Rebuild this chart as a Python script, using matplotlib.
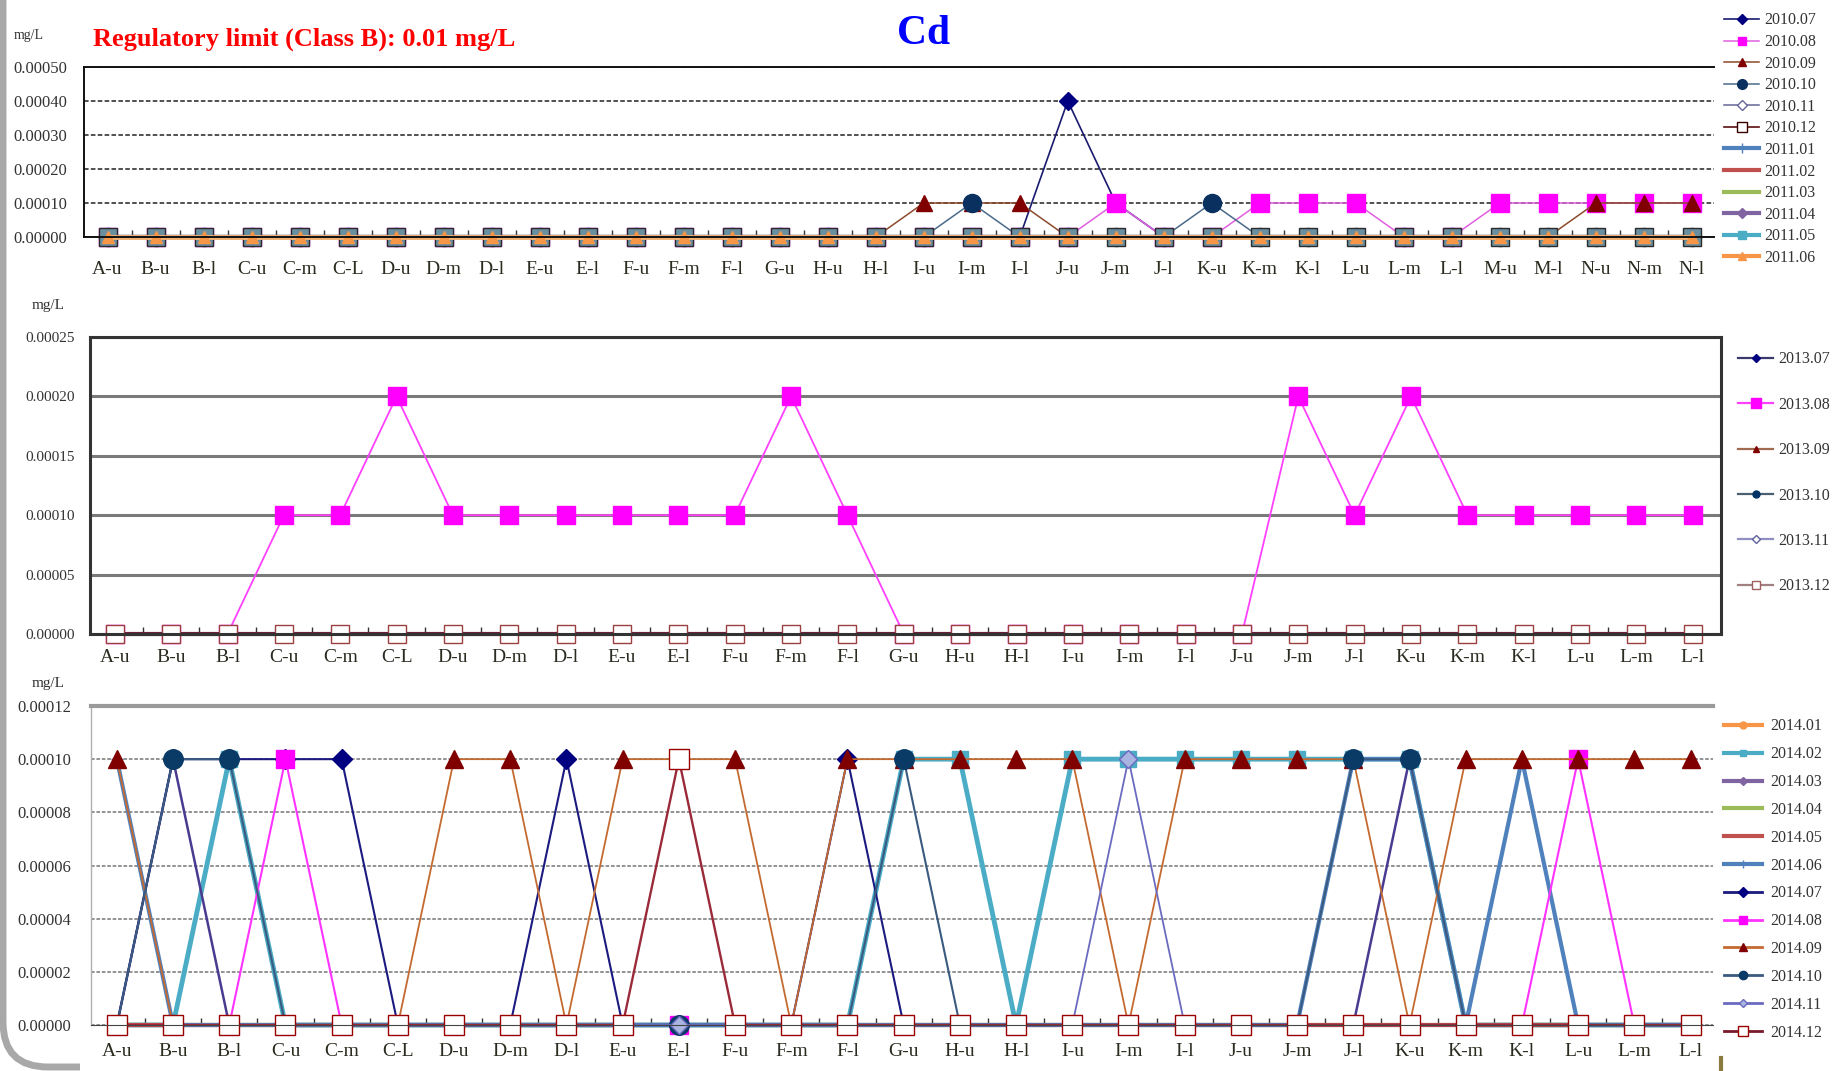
import numpy as np
import matplotlib
matplotlib.use('Agg')
import matplotlib.pyplot as plt
from matplotlib.lines import Line2D
from matplotlib.patches import PathPatch
from matplotlib.path import Path
from matplotlib.ticker import FormatStrFormatter, FixedLocator

plt.rcParams['font.family'] = ['Liberation Serif', 'DejaVu Serif']

# ---------------- data ----------------
sites_2010 = ['A-u', 'B-u', 'B-l', 'C-u', 'C-m', 'C-L', 'D-u', 'D-m', 'D-l', 'E-u', 'E-l',
              'F-u', 'F-m', 'F-l', 'G-u', 'H-u', 'H-l', 'I-u', 'I-m', 'I-l', 'J-u', 'J-m',
              'J-l', 'K-u', 'K-m', 'K-l', 'L-u', 'L-m', 'L-l', 'M-u', 'M-l', 'N-u', 'N-m', 'N-l']
sites_2013 = ['A-u', 'B-u', 'B-l', 'C-u', 'C-m', 'C-L', 'D-u', 'D-m', 'D-l', 'E-u', 'E-l',
              'F-u', 'F-m', 'F-l', 'G-u', 'H-u', 'H-l', 'I-u', 'I-m', 'I-l', 'J-u', 'J-m',
              'J-l', 'K-u', 'K-m', 'K-l', 'L-u', 'L-m', 'L-l']
sites_2014 = list(sites_2013)

Z34 = [0.0] * 34
Z29 = [0.0] * 29

# 2010.07 - 2011.06 (34 sites)
cd_2010_07 = [0, 0, 0, 0, 0, 0, 0, 0, 0, 0, 0, 0, 0, 0, 0, 0, 0, 0, 0, 0, 0.0004, 0.0001,
              0, 0, 0, 0, 0, 0, 0, 0, 0, 0, 0, 0]
cd_2010_08 = [0, 0, 0, 0, 0, 0, 0, 0, 0, 0, 0, 0, 0, 0, 0, 0, 0, 0, 0, 0, 0, 0.0001,
              0, 0, 0.0001, 0.0001, 0.0001, 0, 0, 0.0001, 0.0001, 0.0001, 0.0001, 0.0001]
cd_2010_09 = [0, 0, 0, 0, 0, 0, 0, 0, 0, 0, 0, 0, 0, 0, 0, 0, 0, 0.0001, 0.0001, 0.0001, 0, 0,
              0, 0, 0, 0, 0, 0, 0, 0, 0, 0.0001, 0.0001, 0.0001]
cd_2010_10 = [0, 0, 0, 0, 0, 0, 0, 0, 0, 0, 0, 0, 0, 0, 0, 0, 0, 0, 0.0001, 0, 0, 0,
              0, 0.0001, 0, 0, 0, 0, 0, 0, 0, 0, 0, 0]
cd_2010_11 = list(Z34)
cd_2010_12 = list(Z34)
cd_2011_01 = list(Z34)
cd_2011_02 = list(Z34)
cd_2011_03 = list(Z34)
cd_2011_04 = list(Z34)
cd_2011_05 = list(Z34)
cd_2011_06 = list(Z34)

# 2013.07 - 2013.12 (29 sites)
cd_2013_07 = list(Z29)
cd_2013_08 = [0, 0, 0, 0.0001, 0.0001, 0.0002, 0.0001, 0.0001, 0.0001, 0.0001, 0.0001,
              0.0001, 0.0002, 0.0001, 0, 0, 0, 0, 0, 0, 0, 0.0002, 0.0001, 0.0002,
              0.0001, 0.0001, 0.0001, 0.0001, 0.0001]
cd_2013_09 = list(Z29)
cd_2013_10 = list(Z29)
cd_2013_11 = list(Z29)
cd_2013_12 = list(Z29)

# 2014.01 - 2014.12 (29 sites)
cd_2014_01 = list(Z29)
cd_2014_02 = [0, 0, 0.0001, 0, 0, 0, 0, 0, 0, 0, 0, 0, 0, 0, 0.0001, 0.0001, 0, 0.0001,
              0.0001, 0.0001, 0.0001, 0.0001, 0.0001, 0.0001, 0, 0, 0, 0, 0]
cd_2014_03 = [0, 0.0001, 0, 0, 0, 0, 0, 0, 0, 0, 0, 0, 0, 0, 0, 0, 0, 0, 0, 0, 0, 0, 0,
              0.0001, 0, 0, 0, 0, 0]
cd_2014_04 = list(Z29)
cd_2014_05 = list(Z29)
cd_2014_06 = [0.0001, 0, 0, 0, 0, 0, 0, 0, 0, 0, 0, 0, 0, 0, 0, 0, 0, 0, 0, 0, 0, 0,
              0.0001, 0.0001, 0, 0.0001, 0, 0, 0]
cd_2014_07 = [0, 0.0001, 0.0001, 0.0001, 0.0001, 0, 0, 0, 0.0001, 0, 0, 0, 0, 0.0001, 0, 0,
              0, 0, 0, 0, 0, 0, 0, 0, 0, 0, 0, 0, 0]
cd_2014_08 = [0, 0, 0, 0.0001, 0, 0, 0, 0, 0, 0, 0, 0, 0, 0, 0, 0, 0, 0, 0, 0, 0, 0, 0, 0,
              0, 0, 0.0001, 0, 0]
cd_2014_09 = [0.0001, 0, 0, 0, 0, 0, 0.0001, 0.0001, 0, 0.0001, 0.0001, 0.0001, 0, 0.0001,
              0.0001, 0.0001, 0.0001, 0.0001, 0, 0.0001, 0.0001, 0.0001, 0.0001, 0, 0.0001,
              0.0001, 0.0001, 0.0001, 0.0001]
cd_2014_10 = [0, 0.0001, 0.0001, 0, 0, 0, 0, 0, 0, 0, 0, 0, 0, 0, 0.0001, 0, 0, 0, 0, 0, 0,
              0, 0.0001, 0.0001, 0, 0, 0, 0, 0]
cd_2014_11 = [0, 0, 0, 0, 0, 0, 0, 0, 0, 0, 0, 0, 0, 0, 0, 0, 0, 0, 0.0001, 0, 0, 0, 0,
              0, 0, 0, 0, 0, 0]
cd_2014_12 = [0, 0, 0, 0, 0, 0, 0, 0, 0, 0, 0.0001, 0, 0, 0, 0, 0, 0, 0, 0, 0, 0, 0, 0, 0,
              0, 0, 0, 0, 0]

labels_a = ['2010.07', '2010.08', '2010.09', '2010.10', '2010.11', '2010.12',
            '2011.01', '2011.02', '2011.03', '2011.04', '2011.05', '2011.06']
series_a = [cd_2010_07, cd_2010_08, cd_2010_09, cd_2010_10, cd_2010_11, cd_2010_12,
            cd_2011_01, cd_2011_02, cd_2011_03, cd_2011_04, cd_2011_05, cd_2011_06]
labels_b = ['2013.07', '2013.08', '2013.09', '2013.10', '2013.11', '2013.12']
series_b = [cd_2013_07, cd_2013_08, cd_2013_09, cd_2013_10, cd_2013_11, cd_2013_12]
labels_c = ['2014.01', '2014.02', '2014.03', '2014.04', '2014.05', '2014.06',
            '2014.07', '2014.08', '2014.09', '2014.10', '2014.11', '2014.12']
series_c = [cd_2014_01, cd_2014_02, cd_2014_03, cd_2014_04, cd_2014_05, cd_2014_06,
            cd_2014_07, cd_2014_08, cd_2014_09, cd_2014_10, cd_2014_11, cd_2014_12]

# ---------------- styles ----------------
def st(color, lw, marker='None', ms=0, mfc=None, mec=None):
    return dict(color=color, lw=lw, marker=marker, ms=ms,
                mfc=mfc if mfc is not None else color,
                mec=mec if mec is not None else (mfc if mfc is not None else color))

styles_a = [
    st('#1a1a6e', 1.2, 'D', 9, '#000080'),
    st('#e060e0', 1.1, 's', 13, '#ff00ff'),
    st('#8b4a2b', 1.1, '^', 12, '#800000'),
    st('#4a6a8a', 1.1, 'o', 13, '#0a3060'),
    st('#666699', 1.1, 'D', 7, 'white', '#666699'),
    st('#5a0f0f', 1.2, 's', 9, 'white', '#3a0000'),
    st('#4f81bd', 3.0, '+', 7),
    st('#c0504d', 3.0),
    st('#9bbb59', 3.0),
    st('#8064a2', 3.0, 'D', 5),
    st('#4bacc6', 3.0, 's', 13, '#6a8fa0', '#2b2b2b'),
    st('#f6b070', 3.5, '^', 9, '#f79646', '#f79646'),
]
leg_a = [
    st('#1a1a6e', 1.2, 'D', 5, '#000080'),
    st('#e060e0', 1.1, 's', 6, '#ff00ff'),
    st('#8b4a2b', 1.1, '^', 6, '#800000'),
    st('#4a6a8a', 1.1, 'o', 7, '#0a3060'),
    st('#666699', 1.1, 'D', 5, 'white', '#666699'),
    st('#5a0f0f', 1.2, 's', 7, 'white', '#3a0000'),
    st('#4f81bd', 3.0, '+', 7),
    st('#c0504d', 3.0),
    st('#9bbb59', 3.0),
    st('#8064a2', 3.0, 'D', 5),
    st('#4bacc6', 3.0, 's', 6),
    st('#f79646', 3.0, '^', 6),
]
styles_b = [
    st('#1a1a6e', 1.2, 'D', 8, '#000080'),
    st('#ff40ff', 1.3, 's', 13, '#ff00ff'),
    st('#993300', 1.2, '^', 9, '#800000'),
    st('#335577', 1.2, 'o', 9, '#003366'),
    st('#9090c0', 1.2, 'D', 7, 'white', '#6060a0'),
    st('#6b1f3a', 3.0, 's', 13.5, 'white', '#9a4040'),
]
leg_b = [
    st('#3a3a6e', 1.6, 'D', 4, '#000080'),
    st('#ff40ff', 1.6, 's', 7, '#ff00ff'),
    st('#a06a50', 1.6, '^', 5, '#800000'),
    st('#4a6070', 1.6, 'o', 5, '#003366'),
    st('#9090c0', 1.6, 'D', 4, 'white', '#6060a0'),
    st('#a08080', 1.6, 's', 6, 'white', '#a06060'),
]
styles_c = [
    st('#f79646', 2.0, '^', 5),
    st('#4bacc6', 3.5, 's', 12, '#4bacc6'),
    st('#4a3a90', 1.8, 'D', 5),
    st('#9bbb59', 3.0),
    st('#c0504d', 3.0),
    st('#4f81bd', 3.0, '+', 8),
    st('#1a1a80', 1.5, 'D', 10, '#000080'),
    st('#ff33ff', 1.5, 's', 13, '#ff00ff'),
    st('#c46a30', 1.3, '^', 13, '#800000'),
    st('#3a5a80', 1.5, 'o', 14, '#0a3a66'),
    st('#6a6ac0', 1.3, 'D', 9, '#aab4e0', '#6a6ac0'),
    st('#9a2a3a', 1.7, 's', 14, 'white', '#990000'),
]
leg_c = [
    st('#f79646', 3.0, 'o', 5),
    st('#4bacc6', 3.0, 's', 5),
    st('#8064a2', 3.0, 'D', 4),
    st('#9bbb59', 3.0),
    st('#c0504d', 3.0),
    st('#4f81bd', 3.0, '+', 6),
    st('#1a1a80', 2.0, 'D', 5, '#000080'),
    st('#ff33ff', 2.0, 's', 6, '#ff00ff'),
    st('#c46a30', 2.0, '^', 6, '#800000'),
    st('#3a5a80', 2.0, 'o', 6, '#0a3a66'),
    st('#6a6ac0', 2.0, 'D', 4, '#aab4e0', '#6a6ac0'),
    st('#7a1a2a', 2.0, 's', 7, 'white', '#990000'),
]

TXT = '#2b2b20'
W, H = 1833, 1071
fig = plt.figure(figsize=(W / 100, H / 100), dpi=100)
fig.patch.set_facecolor('white')


def fx(px):
    return px / W


def fy(py):
    return 1 - py / H


def panel(rect, cats, series, styles, ymax, ystep, xlim, xpad, ypad, ytick_fs):
    ax = fig.add_axes(rect)
    x = np.arange(len(cats))
    for vals, s in zip(series, styles):
        ax.plot(x, vals, clip_on=False, **s)
    ax.set_xlim(*xlim)
    ax.set_ylim(0, ymax)
    yt = np.round(np.arange(0, ymax + ystep / 2, ystep), 6)
    ax.set_yticks(yt)
    ax.yaxis.set_major_formatter(FormatStrFormatter('%.5f'))
    ax.set_xticks(x)
    ax.set_xticklabels(cats, fontsize=14, color=TXT)
    ax.xaxis.set_minor_locator(FixedLocator(np.arange(len(cats) - 1) + 0.5))
    ax.tick_params(axis='x', which='major', length=0, pad=xpad)
    ax.tick_params(axis='x', which='minor', length=5, direction='in', width=1, color='#333333')
    ax.tick_params(axis='y', length=0, pad=ypad, labelsize=ytick_fs, labelcolor='#333333')
    ax.set_axisbelow(True)
    return ax


# ---- top panel ----
ax1 = panel([fx(84), fy(237), fx(1714 - 84), (237 - 67) / H], sites_2010, series_a, styles_a,
            0.0005, 0.0001, (-0.49, 33.46), 17, 12, 12)
ax1.yaxis.grid(True, color='#222222', ls=(0, (3, 1.5)), lw=1.1)
for sp in ['left', 'bottom', 'top']:
    ax1.spines[sp].set_color('#111111')
    ax1.spines[sp].set_linewidth(1.4)
ax1.spines['right'].set_visible(False)

# ---- middle panel ----
ax2 = panel([fx(90), fy(634), fx(1721 - 90), (634 - 337) / H], sites_2013, series_b, styles_b,
            0.00025, 0.00005, (-0.44, 28.5), 11, 11, 11)
ax2.yaxis.grid(True, color='#7a7a7a', ls='-', lw=2.2)
for sp in ax2.spines.values():
    sp.set_color('#333333')
    sp.set_linewidth(2.2)

# ---- bottom panel ----
ax3 = panel([fx(91), fy(1025), fx(1713 - 91), (1025 - 706) / H], sites_2014, series_c, styles_c,
            0.00012, 0.00002, (-0.46, 28.4), 13, 14, 12)
ax3.yaxis.grid(True, color='#8a8a8a', ls=(0, (2, 1)), lw=1.3)
ax3.spines['top'].set_color('#9a9a9a')
ax3.spines['top'].set_linewidth(3)
ax3.spines['left'].set_color('#b0b0b0')
ax3.spines['left'].set_linewidth(1)
ax3.spines['right'].set_visible(False)
ax3.spines['bottom'].set_color('#444444')

# ---- legends ----
def legend(styles, labels, x, y, spacing, hl, htp):
    handles = [Line2D([0], [0], **s) for s in styles]
    fig.legend(handles, labels, loc='upper left', bbox_to_anchor=(x, y),
               bbox_transform=fig.transFigure, frameon=False, borderpad=0,
               fontsize=11.5, labelspacing=spacing, handlelength=hl,
               handletextpad=htp, borderaxespad=0, labelcolor='#333333')


legend(leg_a, labels_a, fx(1724), fy(12.5), 0.35, 2.2, 0.35)
legend(leg_b, labels_b, fx(1738), fy(351.5), 1.84, 2.2, 0.3)
legend(leg_c, labels_c, fx(1724), fy(718.5), 0.74, 2.4, 0.5)

# ---- texts ----
fig.text(fx(924), fy(34), 'Cd', color='#0000ff', fontsize=30, fontweight='bold',
         ha='center', va='center')
fig.text(fx(93), fy(39.5), 'Regulatory limit (Class B): 0.01 mg/L', color='#ff0000',
         fontsize=19, fontweight='bold', ha='left', va='center')
fig.text(fx(14), fy(35), 'mg/L', fontsize=10, color='#333333', ha='left', va='center')
fig.text(fx(32), fy(305), 'mg/L', fontsize=11, color='#333333', ha='left', va='center')
fig.text(fx(32), fy(684), 'mg/L', fontsize=11, color='#333333', ha='left', va='center')

# ---- slide frame decoration (bottom-left corner) ----
r = 45
verts = [(3, H), (3, r + 4), (3, 4), (r + 3, 4), (80, 4)]
codes = [Path.MOVETO, Path.LINETO, Path.CURVE3, Path.CURVE3, Path.LINETO]
fig.add_artist(PathPatch(Path(verts, codes), transform=None, fill=False,
                         edgecolor='#a8a8a8', lw=5))
fig.add_artist(Line2D([fx(1721), fx(1721)], [0, fy(1058)], color='#8a7a40', lw=3))

fig.savefig('out.png', dpi=100, facecolor='white')
